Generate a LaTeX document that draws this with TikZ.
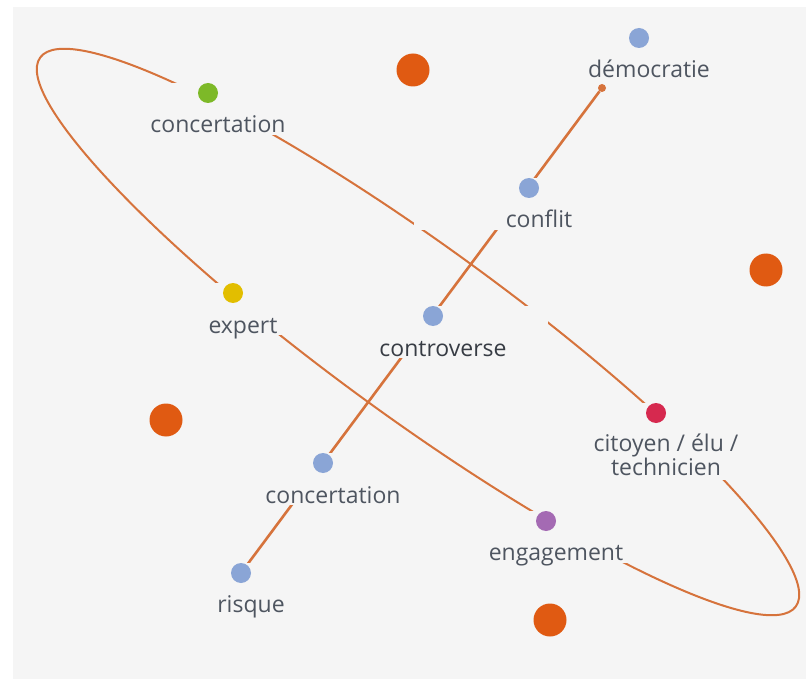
\documentclass[tikz,border=0pt]{standalone}
\usepackage{fontspec}
\setmainfont{Open Sans}
\usetikzlibrary{backgrounds}
\definecolor{bg}{HTML}{F5F5F5}
\definecolor{wire}{HTML}{D6733C}
\definecolor{hotorange}{HTML}{E05A12}
\definecolor{ink}{HTML}{4E5560}
\definecolor{darkink}{HTML}{373C44}
\definecolor{tblue}{HTML}{8AA5D6}
\definecolor{tgreen}{HTML}{7DB928}
\definecolor{tyellow}{HTML}{E2BE00}
\definecolor{tred}{HTML}{D6294F}
\definecolor{tpurple}{HTML}{A46AB3}
\begin{document}
\begin{tikzpicture}[x=1pt, y=-1pt,
	pad/.style={fill=bg, minimum width=230pt, minimum height=52pt, inner sep=0pt, anchor=north},
	dot/.style={circle, fill=#1, minimum size=20pt, inner sep=0pt},
	hot/.style={circle, fill=hotorange, minimum size=33pt, inner sep=0pt},
	word/.style={font=\fontsize{23}{24}\selectfont, text=ink, inner sep=0pt, anchor=base, align=center},
	ring/.style={draw=wire, line width=2pt},
	link/.style={draw=wire, line width=2.6pt}]
	\useasboundingbox (0,0) rectangle (806,679);
	% pads hide the lines behind each term
	\node[pad] (pdemocratie) at (639,28) {};
	\node[pad] (pconcertA) at (208,83) {};
	\node[pad] (pconflit) at (529,178) {};
	\node[pad] (pexpert) at (233,283) {};
	\node[pad] (pcontroverse) at (433,306) {};
	\node[pad, minimum height=77pt] (pcitoyen) at (656,403) {};
	\node[pad] (pconcertB) at (323,453) {};
	\node[pad] (pengagement) at (546,511) {};
	\node[pad] (prisque) at (241,563) {};
	% term dots
	\node[dot=tblue] (democratie) at (639,38) {};
	\node[dot=tgreen] (concertA) at (208,93) {};
	\node[dot=tblue] (conflit) at (529,188) {};
	\node[dot=tyellow] (expert) at (233,293) {};
	\node[dot=tblue] (controverse) at (433,316) {};
	\node[dot=tred] (citoyen) at (656,413) {};
	\node[dot=tblue] (concertB) at (323,463) {};
	\node[dot=tpurple] (engagement) at (546,521) {};
	\node[dot=tblue] (risque) at (241,573) {};
	\node[circle, fill=wire, minimum size=8pt, inner sep=0pt] (demend) at (602,88) {};
	% labels
	\node[word] (ldemocratie) at (649,78) {démocratie};
	\node[word] (lconcertA) at (218,133) {concertation};
	\node[word] (lconflit) at (539,228) {conflit};
	\node[word] (lexpert) at (243,333) {expert};
	\node[word, text=darkink] (lcontroverse) at (443,356) {controverse};
	\node[word] (lcitoyen) at (666,475) {citoyen / élu /\\technicien};
	\node[word] (lconcertB) at (333,503) {concertation};
	\node[word] (lengagement) at (556,560) {engagement};
	\node[word] (lrisque) at (251,612) {risque};
	% big orange dots
	\node[hot] (hotN) at (413,70) {};
	\node[hot] (hotE) at (766,270) {};
	\node[hot] (hotW) at (166,420) {};
	\node[hot] (hotS) at (550,620) {};
	\begin{scope}[on background layer]
		\fill[white] (0,0) rectangle (806,679);
		\fill[bg] (13,7) rectangle (806,679);
		\draw[ring, rotate around={-36:(418,332)}] (418,332) ellipse [x radius=467pt, y radius=86pt];
		\draw[link] (risque) -- (demend);
	\end{scope}
\end{tikzpicture}
\end{document}
